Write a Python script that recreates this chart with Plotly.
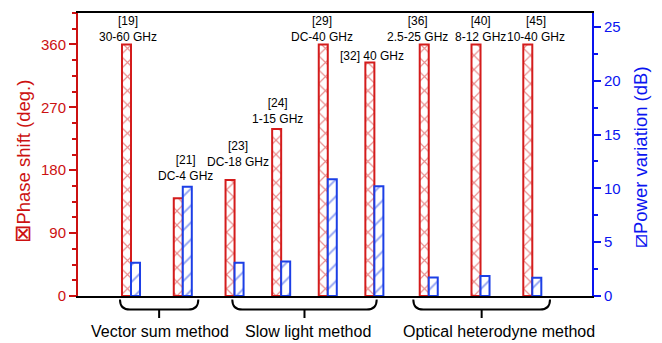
import plotly.graph_objects as go

# ---------------- data ----------------
refs = ["[19]", "[21]", "[23]", "[24]", "[29]", "[32]", "[36]", "[40]", "[45]"]
bands = ["30-60 GHz", "DC-4 GHz", "DC-18 GHz", "1-15 GHz", "DC-40 GHz", "40 GHz",
         "2.5-25 GHz", "8-12 GHz", "10-40 GHz"]
phase_shift = [360, 140, 166, 239, 360, 334, 360, 360, 360]          # deg.
power_variation = [3.1, 10.15, 3.1, 3.2, 10.85, 10.2, 1.72, 1.85, 1.69]  # dB
methods = ["Vector sum method", "Slow light method", "Optical heterodyne method"]

# ---------------- layout helpers ----------------
group_x = [1, 2, 3, 3.9, 4.8, 5.7, 6.75, 7.75, 8.75]
bar_w = 0.174
XR = [-0.0236, 9.903]
PX = 51.78  # pixels per x unit

RED = "#d41c1c"
RED_AX = "#cc1111"
BLUE = "#1c3fe6"
BLUE_AX = "#0a14f0"
FONT = "Arial, Liberation Sans, Helvetica, sans-serif"

fig = go.Figure()
fig.add_trace(go.Bar(
    x=group_x, y=phase_shift, width=bar_w, offset=-bar_w, yaxis="y",
    marker=dict(color="white", line=dict(color=RED, width=2),
                pattern=dict(shape="x", fgcolor=RED, bgcolor="white", size=10, solidity=0.22)),
    showlegend=False, hoverinfo="skip"))
fig.add_trace(go.Bar(
    x=group_x, y=power_variation, width=bar_w, offset=0, yaxis="y2",
    marker=dict(color="white", line=dict(color=BLUE, width=2),
                pattern=dict(shape="/", fgcolor=BLUE, bgcolor="white", size=12, solidity=0.15)),
    showlegend=False, hoverinfo="skip"))

# label block centres (deg units on left axis) and horizontal nudges (px)
lab_y = [378, 179, 199, 260, 378, 343, 378, 378, 378]
two_lines = [True, True, True, True, True, False, True, True, True]
lab_dx = [-3, 3, 3, -4, -6, -2, -11, 0, 4]

ann = []
for i in range(len(refs)):
    sep = "<br>" if two_lines[i] else " "
    ann.append(dict(x=group_x[i], y=lab_y[i], xref="x", yref="y",
                    text=refs[i] + sep + bands[i], showarrow=False, xshift=lab_dx[i],
                    yshift=3 if two_lines[i] else 0,
                    yanchor="middle", borderpad=0,
                    font=dict(size=12, color="black", family=FONT)))

# brackets below the axis
bracket_span = [(0.787, 2.300), (2.956, 5.745), (6.452, 9.092)]
text_dx = [1, 4, 17]
y_top, y_bot, y_stem = -0.012, -0.048, -0.078
r = 10 / PX
shapes = []
for (xl, xr), m, dx in zip(bracket_span, methods, text_dx):
    xc = (xl + xr) / 2
    path = (f"M {xl},{y_top} Q {xl},{y_bot} {xl + r},{y_bot} L {xr - r},{y_bot} "
            f"Q {xr},{y_bot} {xr},{y_top} M {xc},{y_bot} L {xc},{y_stem}")
    shapes.append(dict(type="path", path=path, xref="x", yref="paper",
                       line=dict(color="black", width=2)))
    ann.append(dict(x=xc, y=-0.125, xref="x", yref="paper", text=m, showarrow=False,
                    xshift=dx, yanchor="middle",
                    font=dict(size=16, color="black", family=FONT)))

# axis titles (with hatch-symbol keys)
ann.append(dict(x=0, y=0.475, xref="paper", yref="paper", textangle=-90, showarrow=False,
                xshift=-55, xanchor="center", yanchor="middle",
                text='<span style="font-size:22px">⊠</span>Phase shift (deg.)',
                font=dict(size=18.5, color=RED_AX, family=FONT)))
ann.append(dict(x=1, y=0.491, xref="paper", yref="paper", textangle=-90, showarrow=False,
                xshift=47, xanchor="center", yanchor="middle",
                text='<span style="font-size:22px">⧄</span>Power variation (dB)',
                font=dict(size=18.5, color=BLUE_AX, family=FONT)))

fig.update_layout(
    width=662, height=343,
    margin=dict(l=78, r=70, t=11, b=47),
    paper_bgcolor="white", plot_bgcolor="white",
    barmode="overlay",
    font=dict(family=FONT),
    xaxis=dict(range=XR, showline=True, linecolor="black", linewidth=2, mirror=True,
               showticklabels=False, ticks="", showgrid=False, zeroline=False, fixedrange=True),
    yaxis=dict(range=[0, 405], tickvals=[0, 90, 180, 270, 360], ticks="outside", ticklen=7,
               tickwidth=1.5, tickcolor=RED_AX, showline=True, linecolor=RED_AX, linewidth=2,
               showgrid=False, zeroline=False,
               minor=dict(dtick=22.5, tick0=0, ticks="outside", ticklen=4, tickcolor=RED_AX,
                          tickwidth=1.5, showgrid=False),
               tickfont=dict(size=15, color=RED_AX, family=FONT)),
    yaxis2=dict(range=[0, 26.3], overlaying="y", side="right", tickvals=[0, 5, 10, 15, 20, 25],
                ticks="outside", ticklen=7, tickwidth=1.5, tickcolor=BLUE_AX, showline=True,
                linecolor=BLUE_AX, linewidth=2, showgrid=False, zeroline=False,
                minor=dict(dtick=2.5, tick0=0, ticks="outside", ticklen=4, tickcolor=BLUE_AX,
                           tickwidth=1.5, showgrid=False),
                tickfont=dict(size=15, color=BLUE_AX, family=FONT)),
    annotations=ann, shapes=shapes,
)

fig.write_html("out.html", config={"displayModeBar": False},
               post_script="document.body.style.margin='0';")
